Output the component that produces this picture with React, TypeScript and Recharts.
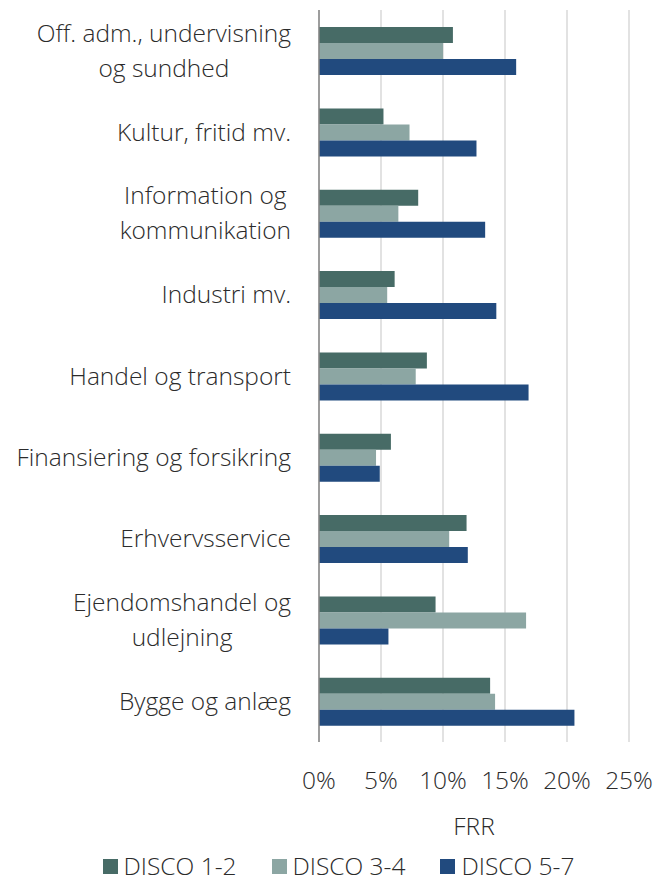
import React from 'react';
import { BarChart, Bar, XAxis, YAxis, CartesianGrid, Legend } from 'recharts';

const categories = [
  'Off. adm., undervisning\nog sundhed',
  'Kultur, fritid mv.',
  'Information og\nkommunikation',
  'Industri mv.',
  'Handel og transport',
  'Finansiering og forsikring',
  'Erhvervsservice',
  'Ejendomshandel og\nudlejning',
  'Bygge og anlæg',
];
const disco12 = [10.8, 5.2, 8.0, 6.1, 8.7, 5.8, 11.9, 9.4, 13.8];
const disco34 = [10.0, 7.3, 6.4, 5.5, 7.8, 4.6, 10.5, 16.7, 14.2];
const disco57 = [15.9, 12.7, 13.4, 14.3, 16.9, 4.9, 12.0, 5.6, 20.6];
const xTicks = [0, 5, 10, 15, 20, 25];
const seriesNames = ['DISCO 1-2', 'DISCO 3-4', 'DISCO 5-7'];
const seriesColors = ['#476b66', '#8ca6a3', '#214a7e'];
const axisTitle = 'FRR';

const FONT = '"Open Sans", "Noto Sans", sans-serif';
const FONT_SIZE = 24.5;
const TEXT = '#2b2b2b';

const data = categories.map((name, i) => ({
  name,
  d12: disco12[i],
  d34: disco34[i],
  d57: disco57[i],
}));
const keys = ['d12', 'd34', 'd57'];

let ctx: CanvasRenderingContext2D | null = null;
function textWidth(s: string) {
  if (!ctx) ctx = document.createElement('canvas').getContext('2d');
  if (!ctx) return s.length * FONT_SIZE * 0.5;
  ctx.font = `300 ${FONT_SIZE}px ${FONT}`;
  return ctx.measureText(s).width;
}

const CategoryTick = (props: any) => {
  const { x, y, payload } = props;
  const lines: string[] = String(payload.value).split('\n');
  const lh = 35;
  const common = { fontFamily: FONT, fontWeight: 300, fontSize: FONT_SIZE, fill: TEXT };
  if (lines.length === 1) {
    return (
      <text x={x} y={y} dy="0.35em" textAnchor="end" {...common}>
        {lines[0]}
      </text>
    );
  }
  const w = Math.max(...lines.map(textWidth));
  const cx = x - w / 2;
  const y0 = y - ((lines.length - 1) * lh) / 2;
  return (
    <text textAnchor="middle" {...common}>
      {lines.map((l, i) => (
        <tspan key={i} x={cx} y={y0 + i * lh} dy="0.35em">
          {l}
        </tspan>
      ))}
    </text>
  );
};

const LegendContent = (props: any) => {
  const payload = props.payload || [];
  return (
    <div
      style={{
        display: 'flex',
        justifyContent: 'center',
        alignItems: 'center',
        height: 22,
        lineHeight: '22px',
        paddingLeft: 48,
        transform: 'translateY(-6px)',
        fontFamily: FONT,
        fontWeight: 300,
        fontSize: FONT_SIZE,
        color: TEXT,
        whiteSpace: 'nowrap',
      }}
    >
      {payload.map((p: any, i: number) => (
        <span
          key={i}
          style={{ display: 'flex', alignItems: 'center', marginRight: i < payload.length - 1 ? 35 : 0 }}
        >
          <span style={{ width: 15, height: 15, background: p.color, marginRight: 6, display: 'inline-block' }} />
          {p.value}
        </span>
      ))}
    </div>
  );
};

export default function App() {
  return (
    <div style={{ position: 'absolute', left: 0, top: 0, width: 657, height: 883, background: '#fff' }}>
      <BarChart
        width={657}
        height={883}
        data={data}
        layout="vertical"
        margin={{ top: 10, right: 28, bottom: 0, left: 0 }}
        barCategoryGap="21%"
        barGap={0}
      >
        <CartesianGrid horizontal={false} stroke="#d9d9d9" strokeWidth={1.5} />
        <XAxis
          type="number"
          domain={[0, 25]}
          ticks={xTicks}
          tickFormatter={(v: number) => `${v}%`}
          axisLine={false}
          tickLine={false}
          tickMargin={24}
          height={119}
          tick={{ fontFamily: FONT, fontWeight: 300, fontSize: FONT_SIZE, fill: TEXT }}
          label={{
            value: axisTitle,
            position: 'insideBottom',
            offset: 26,
            style: { fontFamily: FONT, fontWeight: 300, fontSize: FONT_SIZE, fill: TEXT },
          }}
        />
        <YAxis
          type="category"
          dataKey="name"
          width={319}
          axisLine={{ stroke: '#868686', strokeWidth: 1.5 }}
          tickLine={false}
          tickMargin={22}
          interval={0}
          tick={<CategoryTick />}
        />
        <Legend verticalAlign="bottom" height={22} content={<LegendContent />} />
        {keys.map((k, i) => (
          <Bar key={k} dataKey={k} name={seriesNames[i]} fill={seriesColors[i]} isAnimationActive={false} />
        ))}
      </BarChart>
    </div>
  );
}
